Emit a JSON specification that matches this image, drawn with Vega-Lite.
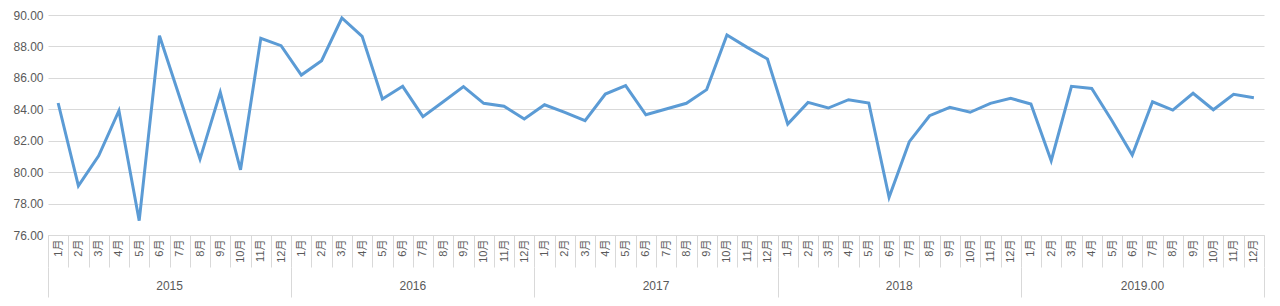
{
  "$schema": "https://vega.github.io/schema/vega-lite/v6.json",
  "padding": {"left": 12, "top": 9, "right": 14, "bottom": 2},
  "bounds": "flush",
  "spacing": 32,
  "config": {"view": {"stroke": null}},
  "data": {"values": [
    {"date": "2015-01-15", "year": "2015", "value": 84.40},
    {"date": "2015-02-15", "year": "2015", "value": 79.13},
    {"date": "2015-03-15", "year": "2015", "value": 81.04},
    {"date": "2015-04-15", "year": "2015", "value": 83.91},
    {"date": "2015-05-15", "year": "2015", "value": 76.91},
    {"date": "2015-06-15", "year": "2015", "value": 88.68},
    {"date": "2015-07-15", "year": "2015", "value": 84.75},
    {"date": "2015-08-15", "year": "2015", "value": 80.83},
    {"date": "2015-09-15", "year": "2015", "value": 85.08},
    {"date": "2015-10-15", "year": "2015", "value": 80.15},
    {"date": "2015-11-15", "year": "2015", "value": 88.52},
    {"date": "2015-12-15", "year": "2015", "value": 88.05},
    {"date": "2016-01-15", "year": "2016", "value": 86.18},
    {"date": "2016-02-15", "year": "2016", "value": 87.09},
    {"date": "2016-03-15", "year": "2016", "value": 89.81},
    {"date": "2016-04-15", "year": "2016", "value": 88.64},
    {"date": "2016-05-15", "year": "2016", "value": 84.65},
    {"date": "2016-06-15", "year": "2016", "value": 85.46},
    {"date": "2016-07-15", "year": "2016", "value": 83.53},
    {"date": "2016-08-15", "year": "2016", "value": 84.48},
    {"date": "2016-09-15", "year": "2016", "value": 85.44},
    {"date": "2016-10-15", "year": "2016", "value": 84.38},
    {"date": "2016-11-15", "year": "2016", "value": 84.19},
    {"date": "2016-12-15", "year": "2016", "value": 83.38},
    {"date": "2017-01-15", "year": "2017", "value": 84.29},
    {"date": "2017-02-15", "year": "2017", "value": 83.80},
    {"date": "2017-03-15", "year": "2017", "value": 83.27},
    {"date": "2017-04-15", "year": "2017", "value": 84.97},
    {"date": "2017-05-15", "year": "2017", "value": 85.50},
    {"date": "2017-06-15", "year": "2017", "value": 83.65},
    {"date": "2017-07-15", "year": "2017", "value": 84.02},
    {"date": "2017-08-15", "year": "2017", "value": 84.38},
    {"date": "2017-09-15", "year": "2017", "value": 85.25},
    {"date": "2017-10-15", "year": "2017", "value": 88.73},
    {"date": "2017-11-15", "year": "2017", "value": 87.94},
    {"date": "2017-12-15", "year": "2017", "value": 87.20},
    {"date": "2018-01-15", "year": "2018", "value": 83.06},
    {"date": "2018-02-15", "year": "2018", "value": 84.44},
    {"date": "2018-03-15", "year": "2018", "value": 84.08},
    {"date": "2018-04-15", "year": "2018", "value": 84.61},
    {"date": "2018-05-15", "year": "2018", "value": 84.40},
    {"date": "2018-06-15", "year": "2018", "value": 78.40},
    {"date": "2018-07-15", "year": "2018", "value": 81.94},
    {"date": "2018-08-15", "year": "2018", "value": 83.59},
    {"date": "2018-09-15", "year": "2018", "value": 84.12},
    {"date": "2018-10-15", "year": "2018", "value": 83.81},
    {"date": "2018-11-15", "year": "2018", "value": 84.38},
    {"date": "2018-12-15", "year": "2018", "value": 84.70},
    {"date": "2019-01-15", "year": "2019.00", "value": 84.33},
    {"date": "2019-02-15", "year": "2019.00", "value": 80.73},
    {"date": "2019-03-15", "year": "2019.00", "value": 85.46},
    {"date": "2019-04-15", "year": "2019.00", "value": 85.33},
    {"date": "2019-05-15", "year": "2019.00", "value": 83.27},
    {"date": "2019-06-15", "year": "2019.00", "value": 81.09},
    {"date": "2019-07-15", "year": "2019.00", "value": 84.48},
    {"date": "2019-08-15", "year": "2019.00", "value": 83.95},
    {"date": "2019-09-15", "year": "2019.00", "value": 85.02},
    {"date": "2019-10-15", "year": "2019.00", "value": 83.97},
    {"date": "2019-11-15", "year": "2019.00", "value": 84.95},
    {"date": "2019-12-15", "year": "2019.00", "value": 84.74}
  ]},
  "vconcat": [
    {
      "width": 1216,
      "height": 220,
      "mark": {"type": "line", "color": "#5B9BD5", "strokeWidth": 3},
      "encoding": {
        "x": {
          "field": "date", "type": "ordinal", "timeUnit": "yearmonth",
          "scale": {"type": "band", "paddingInner": 0, "paddingOuter": 0},
          "axis": {
            "title": null,
            "format": "%-m月",
            "labelAngle": 270,
            "labelPadding": -28,
            "labelFontSize": 11,
            "labelColor": "#595959",
            "labelFont": "Liberation Sans, Noto Sans CJK SC",
            "domainColor": "#d9d9d9",
            "tickColor": "#d9d9d9",
            "tickBand": "extent",
            "tickSize": 32
          }
        },
        "y": {
          "field": "value", "type": "quantitative",
          "scale": {"domain": [76, 90], "zero": false, "nice": false},
          "axis": {
            "title": null,
            "values": [76, 78, 80, 82, 84, 86, 88, 90],
            "format": ".2f",
            "domain": false,
            "ticks": false,
            "labelPadding": 5,
            "labelFontSize": 12,
            "labelColor": "#595959",
            "labelFont": "Liberation Sans",
            "gridColor": "#d9d9d9"
          }
        }
      }
    },
    {
      "width": 1216,
      "height": 30,
      "transform": [{"aggregate": [{"op": "count", "as": "n"}], "groupby": ["year"]}],
      "mark": {"type": "text", "fontSize": 12, "color": "#595959", "dy": 4, "font": "Liberation Sans"},
      "encoding": {
        "x": {
          "field": "year", "type": "nominal", "sort": null,
          "scale": {"type": "band", "paddingInner": 0, "paddingOuter": 0},
          "axis": {
            "title": null,
            "orient": "top",
            "labels": false,
            "ticks": false,
            "domain": false,
            "grid": true,
            "tickBand": "extent",
            "gridColor": "#d9d9d9"
          }
        },
        "text": {"field": "year"}
      }
    }
  ]
}
